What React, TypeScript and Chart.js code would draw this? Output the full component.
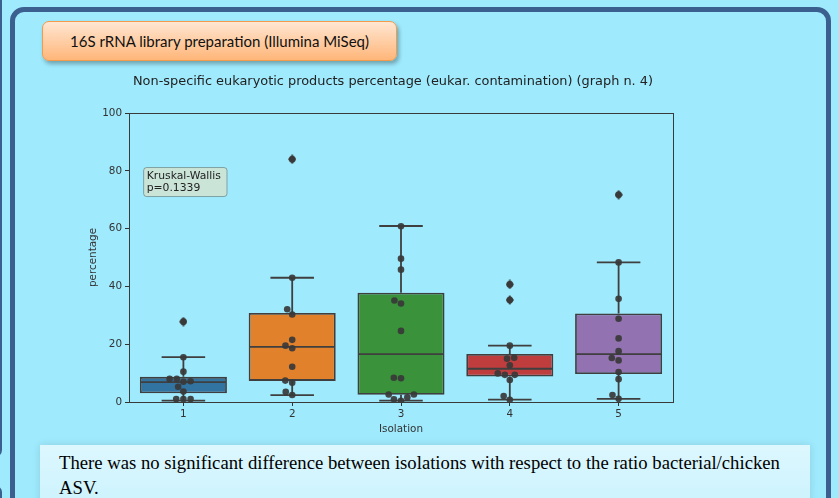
import React, { useEffect, useRef } from 'react';
import { Chart, registerables } from 'chart.js';

Chart.register(...registerables);

// ---------- data ----------
const categories = ['1', '2', '3', '4', '5'];
const boxColors = ['#3274A1', '#E1812C', '#3A923A', '#C03D3E', '#9372B2'];

const q1 = [3.0, 7.3, 2.5, 8.8, 9.7];
const medians = [6.9, 19.1, 16.6, 11.5, 16.6];
const q3 = [8.7, 30.8, 37.8, 16.6, 30.6];
const whiskerLow = [0.5, 2.4, 0.5, 0.8, 1.1];
const whiskerHigh = [15.5, 43.0, 60.9, 19.5, 48.3];

const outliers1 = [27.8];
const outliers2 = [84.0];
const outliers3: number[] = [];
const outliers4 = [40.7, 35.3];
const outliers5 = [71.7];

const isolation1Points = [27.8, 15.5, 10.5, 8.0, 8.0, 7.2, 7.0, 5.3, 3.6, 1.0, 1.0, 1.0];
const isolation2Points = [84.0, 43.0, 32.1, 30.3, 21.5, 19.5, 18.6, 12.2, 7.4, 6.7, 3.5, 2.4];
const isolation3Points = [60.8, 49.6, 45.8, 35.1, 34.1, 24.6, 8.4, 8.2, 2.6, 2.6, 1.6, 0.9, 0.4];
const isolation4Points = [40.7, 35.3, 19.5, 15.3, 15.0, 12.7, 9.9, 9.4, 9.4, 7.6, 2.1, 0.8];
const isolation5Points = [71.7, 48.3, 35.7, 28.8, 22.0, 17.6, 15.2, 14.4, 10.4, 7.9, 2.4, 1.1];

const yTicks = [0, 20, 40, 60, 80, 100];

const chartTitle = 'Non-specific eukaryotic products percentage (eukar. contamination) (graph n. 4)';
const statLines = ['Kruskal-Wallis', 'p=0.1339'];

// ---------- helpers ----------
const PX_PER_X = 108.8;
const PX_PER_Y = 2.89;
const DOT_D = 7.2;

function swarmOffsets(values: number[]): number[] {
  const order = values.map((_, i) => i).sort((a, b) => values[a] - values[b]);
  const placed: { x: number; y: number }[] = [];
  const offsets = new Array(values.length).fill(0);
  for (const i of order) {
    const y = values[i] * PX_PER_Y;
    const cands: number[] = [0];
    for (const p of placed) {
      const dy = Math.abs(p.y - y);
      if (dy < DOT_D) {
        const dx = Math.sqrt(DOT_D * DOT_D - dy * dy);
        cands.push(p.x - dx, p.x + dx);
      }
    }
    const sorted = cands.slice().sort((a, b) => Math.abs(a) - Math.abs(b));
    let chosen = 0;
    for (const c of sorted) {
      if (placed.every((p) => Math.hypot(p.x - c, p.y - y) >= DOT_D - 1e-6)) {
        chosen = c;
        break;
      }
    }
    placed.push({ x: chosen, y });
    offsets[i] = chosen / PX_PER_X;
  }
  return offsets;
}

function makeDiamond(): HTMLCanvasElement {
  const c = document.createElement('canvas');
  c.width = 8;
  c.height = 10;
  const g = c.getContext('2d')!;
  g.fillStyle = '#3f3f3f';
  g.beginPath();
  g.moveTo(4, 0);
  g.lineTo(8, 5);
  g.lineTo(4, 10);
  g.lineTo(0, 5);
  g.closePath();
  g.fill();
  return c;
}

const EDGE = '#3f3f3f';

const boxPlugin = {
  id: 'boxWhiskers',
  beforeDatasetsDraw(chart: any) {
    const { ctx, chartArea } = chart;
    ctx.save();
    ctx.strokeStyle = '#3a3a3a';
    ctx.lineWidth = 1;
    ctx.strokeRect(
      Math.round(chartArea.left) + 0.5,
      Math.round(chartArea.top) + 0.5,
      Math.round(chartArea.right - chartArea.left),
      Math.round(chartArea.bottom - chartArea.top)
    );
    // plot title
    ctx.fillStyle = '#222';
    ctx.font = '12.9px "DejaVu Sans"';
    ctx.textAlign = 'center';
    ctx.textBaseline = 'middle';
    ctx.fillText(chartTitle, (chartArea.left + chartArea.right) / 2 - 8, chartArea.top - 31);
    ctx.restore();
  },
  afterDatasetDraw(chart: any, args: any) {
    if (args.index !== 2) return;
    const { ctx } = chart;
    const xs = chart.scales.x;
    const ys = chart.scales.y;
    const meta = chart.getDatasetMeta(2);
    ctx.save();
    ctx.strokeStyle = EDGE;
    ctx.lineWidth = 1.8;
    categories.forEach((_, g) => {
      const bar: any = meta.data[g];
      const cx = xs.getPixelForValue(g);
      const half = bar.width / 2;
      const yq1 = ys.getPixelForValue(q1[g]);
      const yq3 = ys.getPixelForValue(q3[g]);
      const ymed = ys.getPixelForValue(medians[g]);
      const ylo = ys.getPixelForValue(whiskerLow[g]);
      const yhi = ys.getPixelForValue(whiskerHigh[g]);
      ctx.beginPath();
      ctx.moveTo(cx, yq3);
      ctx.lineTo(cx, yhi);
      ctx.moveTo(cx, yq1);
      ctx.lineTo(cx, ylo);
      ctx.moveTo(cx - half / 2, yhi);
      ctx.lineTo(cx + half / 2, yhi);
      ctx.moveTo(cx - half / 2, ylo);
      ctx.lineTo(cx + half / 2, ylo);
      ctx.moveTo(cx - half + 1, ymed);
      ctx.lineTo(cx + half - 1, ymed);
      ctx.stroke();
    });
    ctx.restore();
  },
  afterDraw(chart: any) {
    const { ctx, chartArea } = chart;
    const w = chartArea.right - chartArea.left;
    const h = chartArea.bottom - chartArea.top;
    ctx.save();
    ctx.font = '10.8px "DejaVu Sans"';
    const tw = Math.max(...statLines.map((l) => ctx.measureText(l).width));
    const bx = chartArea.left + 0.026 * w;
    const by = chartArea.top + 0.187 * h;
    const bw = tw + 9;
    const bh = 29;
    ctx.beginPath();
    (ctx as any).roundRect(bx + 0.5, by + 0.5, bw, bh, 3);
    ctx.fillStyle = 'rgba(245,222,179,0.5)';
    ctx.fill();
    ctx.strokeStyle = 'rgba(0,0,0,0.3)';
    ctx.lineWidth = 1;
    ctx.stroke();
    ctx.fillStyle = '#222';
    ctx.textBaseline = 'middle';
    ctx.textAlign = 'left';
    statLines.forEach((l, i) => ctx.fillText(l, bx + 3.5, by + 9 + i * 12.3));
    ctx.restore();
  },
};

export default function App() {
  const ref = useRef<HTMLCanvasElement>(null);

  useEffect(() => {
    const canvas = ref.current;
    if (!canvas) return;
    const groupPoints = [isolation1Points, isolation2Points, isolation3Points, isolation4Points, isolation5Points];
    const groupOutliers = [outliers1, outliers2, outliers3, outliers4, outliers5];
    const swarmData = groupPoints.flatMap((vals, g) => {
      const offs = swarmOffsets(vals);
      return vals.map((v, i) => ({ x: g + offs[i], y: v }));
    });
    const outlierData = groupOutliers.flatMap((vals, g) => vals.map((v) => ({ x: g, y: v })));
    const boxData = categories.map((_, g) => ({ x: g, y: [q1[g], q3[g]] }));
    const diamond = makeDiamond();

    const chart = new Chart(canvas, {
      type: 'bar',
      data: {
        datasets: [
          {
            type: 'scatter',
            data: swarmData,
            pointRadius: 3.3,
            pointHoverRadius: 3.3,
            pointBackgroundColor: 'rgba(56,56,56,0.92)',
            pointBorderWidth: 0,
            borderWidth: 0,
          } as any,
          {
            type: 'scatter',
            data: outlierData,
            pointStyle: diamond,
            pointRadius: 4,
            borderWidth: 0,
          } as any,
          {
            type: 'bar',
            data: boxData as any,
            backgroundColor: boxColors,
            borderColor: EDGE,
            borderWidth: 1.8,
            borderSkipped: false,
            barPercentage: 0.8,
            categoryPercentage: 1.0,
          } as any,
        ],
      },
      options: {
        animation: false,
        responsive: false,
        events: [],
        layout: { padding: { left: 83, right: 166, top: 113, bottom: 58 } },
        plugins: {
          legend: { display: false },
          tooltip: { enabled: false },
          title: { display: false },
        },
        scales: {
          x: {
            type: 'linear',
            min: -0.5,
            max: 4.5,
            offset: false,
            afterBuildTicks: (s: any) => {
              s.ticks = categories.map((_, i) => ({ value: i }));
            },
            afterFit: (s: any) => {
              s.height = 38;
            },
            ticks: {
              color: '#333',
              font: { family: 'DejaVu Sans', size: 10.4 },
              padding: 2,
              maxRotation: 0,
              autoSkip: false,
              callback: (v: any) => categories[Math.round(Number(v))],
            },
            grid: {
              display: true,
              offset: false,
              drawOnChartArea: false,
              drawTicks: true,
              tickLength: 4,
              color: '#333',
            },
            border: { display: false },
            title: {
              display: true,
              text: 'Isolation',
              color: '#333',
              font: { family: 'DejaVu Sans', size: 10.4 },
            },
          },
          y: {
            type: 'linear',
            min: 0,
            max: 100,
            afterBuildTicks: (s: any) => {
              s.ticks = yTicks.map((v) => ({ value: v }));
            },
            afterFit: (s: any) => {
              s.width = 46;
            },
            ticks: {
              color: '#333',
              font: { family: 'DejaVu Sans', size: 10.4 },
              padding: 3,
            },
            grid: { display: true, drawOnChartArea: false, drawTicks: true, tickLength: 4, color: '#333' },
            border: { display: false },
            title: {
              display: true,
              text: 'percentage',
              color: '#333',
              font: { family: 'DejaVu Sans', size: 10.4 },
            },
          },
        },
      } as any,
      plugins: [boxPlugin],
    });
    return () => chart.destroy();
  }, []);

  const frame = '#3B5F8F';
  return (
    <div
      style={{
        position: 'fixed',
        left: 0,
        top: 0,
        width: 839,
        height: 498,
        overflow: 'hidden',
        background: '#9FEAFD',
      }}
    >
      <div
        style={{
          position: 'absolute',
          left: -12,
          top: -10,
          width: 14,
          height: 467,
          border: `3px solid ${frame}`,
          borderRadius: 8,
          boxSizing: 'border-box',
        }}
      />
      <div
        style={{
          position: 'absolute',
          left: -12,
          top: 486,
          width: 14,
          height: 40,
          border: `3px solid ${frame}`,
          borderRadius: 6,
          boxSizing: 'border-box',
        }}
      />
      <div
        style={{
          position: 'absolute',
          left: 10,
          top: 7,
          width: 821,
          height: 600,
          border: `5px solid ${frame}`,
          borderRadius: 14,
          boxSizing: 'border-box',
        }}
      />
      <div
        style={{
          position: 'absolute',
          left: 42,
          top: 21,
          width: 355,
          height: 40,
          boxSizing: 'border-box',
          border: '1.5px solid #F39A4C',
          borderRadius: 7,
          background: 'linear-gradient(to bottom, #FFE6D2, #FFB679)',
          boxShadow: '2px 3px 4px rgba(0,0,0,0.3)',
          display: 'flex',
          alignItems: 'center',
          justifyContent: 'center',
          fontFamily: 'Lato, "Open Sans", sans-serif',
          fontSize: 15,
          color: '#111',
        }}
      >
        16S rRNA library preparation (Illumina MiSeq)
      </div>
      <div
        style={{
          position: 'absolute',
          left: 40,
          top: 445,
          width: 770,
          height: 80,
          boxSizing: 'border-box',
          background: 'linear-gradient(to bottom, #DDF7FE, #C6F2FE)',
          boxShadow: '0 0 8px rgba(0,0,0,0.12)',
          padding: '5px 0 0 19px',
          fontFamily: '"Liberation Serif", serif',
          fontSize: 18.7,
          lineHeight: '25px',
          color: '#000',
          whiteSpace: 'nowrap',
        }}
      >
        There was no significant difference between isolations with respect to the ratio bacterial/chicken
        <br />
        ASV.
      </div>
      <canvas
        ref={ref}
        width={839}
        height={498}
        style={{ position: 'absolute', left: 0, top: 0, width: 839, height: 498 }}
      />
    </div>
  );
}
